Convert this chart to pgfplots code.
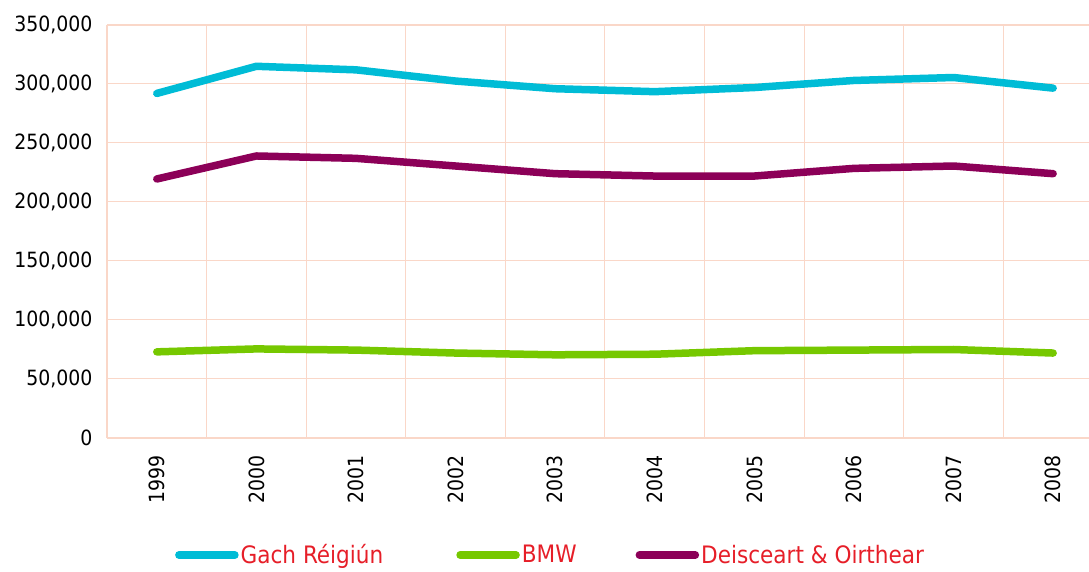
\documentclass[border=0pt]{standalone}
\usepackage{pgfplots}
\pgfplotsset{compat=1.18}
\usepackage{fontspec}
\setmainfont{DejaVu Sans Condensed}
\definecolor{cyanl}{RGB}{0,188,214}
\definecolor{greenl}{RGB}{118,200,0}
\definecolor{purplel}{RGB}{140,0,88}
\definecolor{gridc}{RGB}{250,215,200}
\definecolor{legred}{RGB}{230,30,40}
\begin{document}
\begin{tikzpicture}
\begin{axis}[
  scale only axis, width=982pt, height=413pt,
  xmin=-0.5, xmax=9.36, ymin=0, ymax=350000,
  axis x line*=bottom, axis y line*=left,
  axis line style={gridc, line width=2pt, -},
  xtick={0,...,9},
  xticklabels={1999,2000,2001,2002,2003,2004,2005,2006,2007,2008},
  x tick label style={rotate=90, anchor=east},
  minor xtick={0.5,1.5,...,8.5},
  xminorgrids, ymajorgrids,
  major tick length=0pt, minor tick length=0pt,
  ytick={0,50000,...,350000},
  scaled y ticks=false,
  /pgf/number format/assume math mode=true,
  yticklabel style={/pgf/number format/.cd, fixed, 1000 sep={,}},
  yticklabel shift=11pt, xticklabel shift=14pt,
  grid style={gridc, line width=1pt},
  minor grid style={gridc, line width=1pt},
  tick label style={font=\fontsize{21}{25}\selectfont, text=black},
  legend columns=3,
  legend style={at={(axis description cs:0.0692,-0.2833)}, anchor=west,
    draw=none, fill=none, inner sep=0pt,
    font=\fontsize{24}{28}\selectfont, text=legred,
    nodes={inner sep=2pt},
    /tikz/column 2/.style={column sep=71pt},
    /tikz/column 4/.style={column sep=57pt}},
  legend image code/.code={\draw[#1, line cap=round] (0pt,0pt) -- (56pt,0pt);},
  every axis plot/.append style={line width=7.5pt, line cap=round, line join=round, mark=none},
]
\addplot[cyanl] coordinates {(0,292000) (1,315000) (2,312000) (3,302500) (4,296000) (5,293500) (6,297000) (7,303000) (8,305500) (9,296500)};
\addlegendentry{Gach Réigiún}
\addplot[greenl] coordinates {(0,73000) (1,75500) (2,74500) (3,72000) (4,70500) (5,71000) (6,74000) (7,74500) (8,75000) (9,72000)};
\addlegendentry{BMW}
\addplot[purplel] coordinates {(0,219500) (1,239000) (2,237000) (3,230500) (4,224000) (5,222000) (6,222000) (7,228500) (8,230500) (9,224000)};
\addlegendentry{Deisceart \& Oirthear}
\draw[gridc, line width=2pt] (rel axis cs:0,1) -- (rel axis cs:1,1);
\coordinate (bl) at (rel axis cs:0,0);
\coordinate (tr) at (rel axis cs:1,1);
\end{axis}
\pgfresetboundingbox
\path ([shift={(-107pt,-134pt)}]bl) rectangle ([shift={(0pt,25pt)}]tr);
\end{tikzpicture}
\end{document}
